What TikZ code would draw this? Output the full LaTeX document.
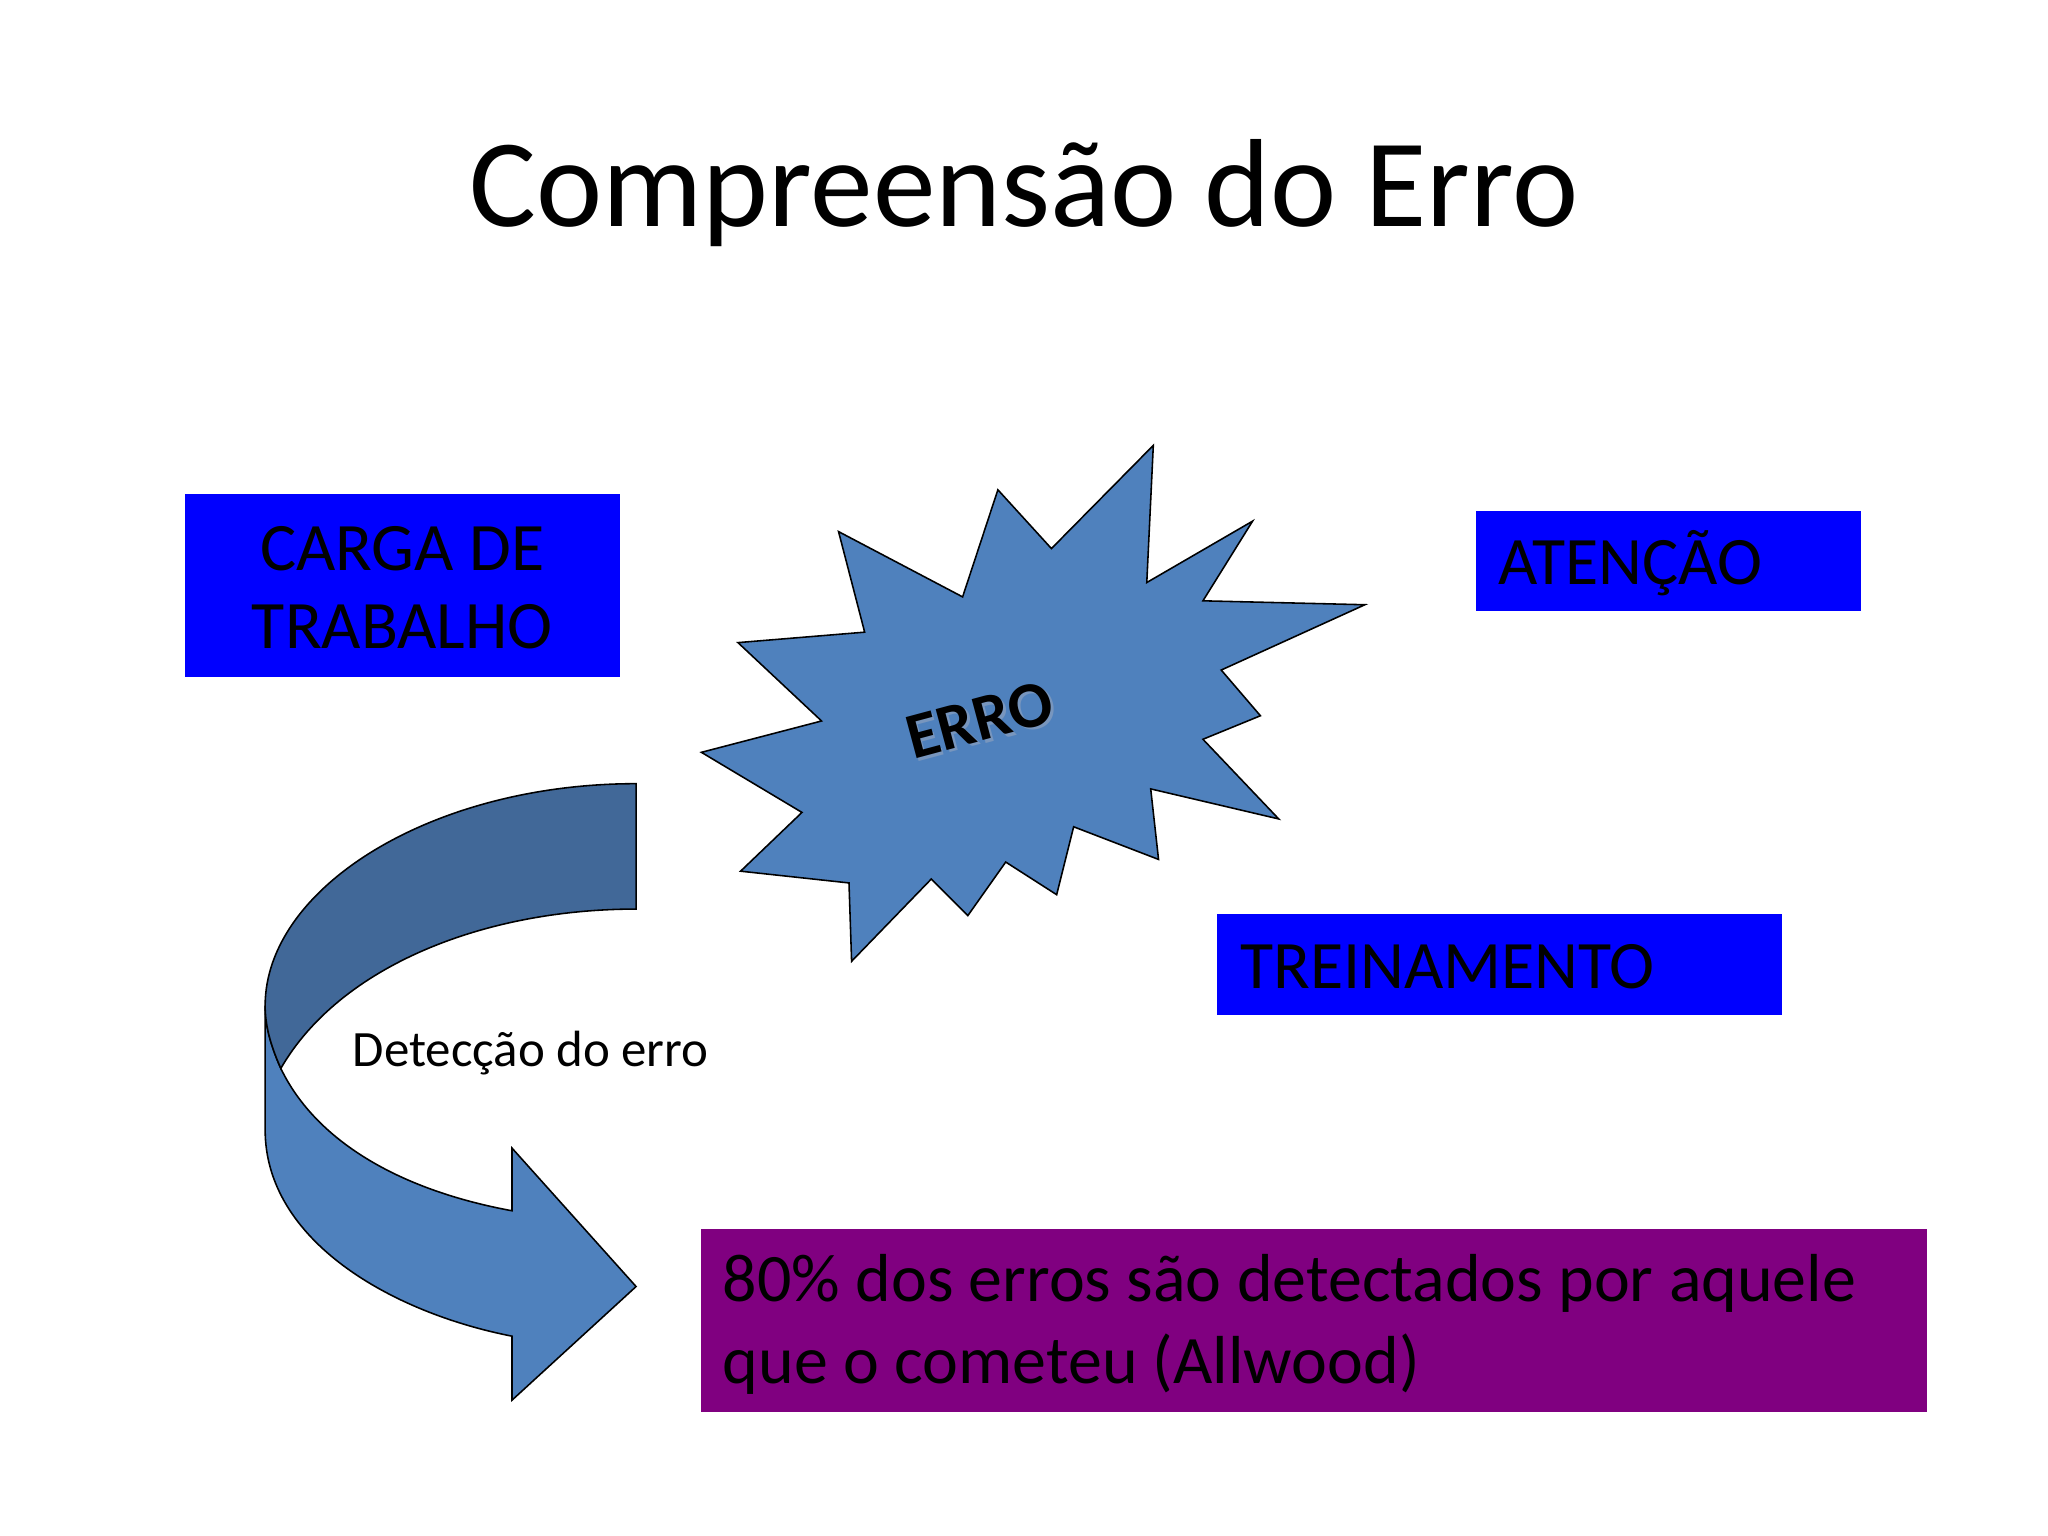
\documentclass[tikz,border=0pt]{standalone}
\usepackage{fontspec}
\setmainfont{Carlito}
\begin{document}
\begin{tikzpicture}[x=0.5pt,y=-0.5pt,
  bluebox/.style={fill={rgb,255:red,0;green,0;blue,255},draw=none},
  boxtext/.style={font=\fontsize{26}{31}\selectfont,text=black,inner sep=0pt}]
\useasboundingbox (0,0) rectangle (1568,1176);
\fill[white] (0,0) rectangle (1568,1176);
\node (title) at (784,148) {\fontsize{48}{56}\selectfont Compreensão do Erro};
% boxes
\fill[bluebox] (142,378) rectangle (475,518);
\node[boxtext,align=center] (carga) at (308,450) {CARGA DE\\[-1pt]TRABALHO};
\fill[bluebox] (1130,391) rectangle (1425,468);
\node[boxtext,anchor=west] (aten) at (1147,431) {ATENÇÃO};
\fill[bluebox] (932,700) rectangle (1364,777);
\node[boxtext,anchor=west] (trein) at (949,740) {TREINAMENTO};
\fill[fill={rgb,255:red,128;green,0;blue,128}] (537,941) rectangle (1475,1081);
\node[anchor=north west,align=left,inner sep=0pt,font=\fontsize{26}{31.5}\selectfont] (det80) at (553,960) {80\% dos erros são detectados por aquele\\que o cometeu (Allwood)};
% starburst
\filldraw[fill={rgb,255:red,79;green,129;blue,189},draw=black,line width=0.6pt]
 (883,341)--(878,446)--(959,399)--(921,460)--(1045,463)--(935,513)--(965,548)--(921,566)--(979,627)--(881,604)--(887,658)--(822,633)--(809,685)--(770,660)--(741,701)--(713,673)--(652,736)--(650,676)--(567,667)--(614,622)--(537,576)--(629,552)--(565,492)--(662,484)--(642,407)--(737,457)--(764,375)--(805,420)--cycle;
\node[rotate=15,font=\bfseries\fontsize{25}{26}\selectfont,text={rgb,255:red,120;green,150;blue,190}] at (752,553) {ERRO};
\node[rotate=15,font=\bfseries\fontsize{25}{26}\selectfont,text=black] (erro) at (750,551) {ERRO};
% curved arrow
\filldraw[fill={rgb,255:red,79;green,129;blue,189},draw=black,line width=0.6pt]
 (203,770) -- (203,865) .. controls (203,950) and (300,1005) .. (392,1023)
 -- (392,1072) -- (487,985) -- (392,879) -- (392,927)
 .. controls (300,910) and (240,870) .. (215,818)
 .. controls (207,800) and (203,785) .. (203,770) -- cycle;
\filldraw[fill={rgb,255:red,65;green,104;blue,152},draw=black,line width=0.6pt]
 (487,600) .. controls (330,600) and (203,680) .. (203,770)
 .. controls (203,785) and (207,800) .. (215,818)
 .. controls (260,740) and (370,696) .. (487,696) -- cycle;
\node[anchor=west,font=\fontsize{19.5}{21}\selectfont] (detec) at (263,806) {Detecção do erro};
\end{tikzpicture}
\end{document}
